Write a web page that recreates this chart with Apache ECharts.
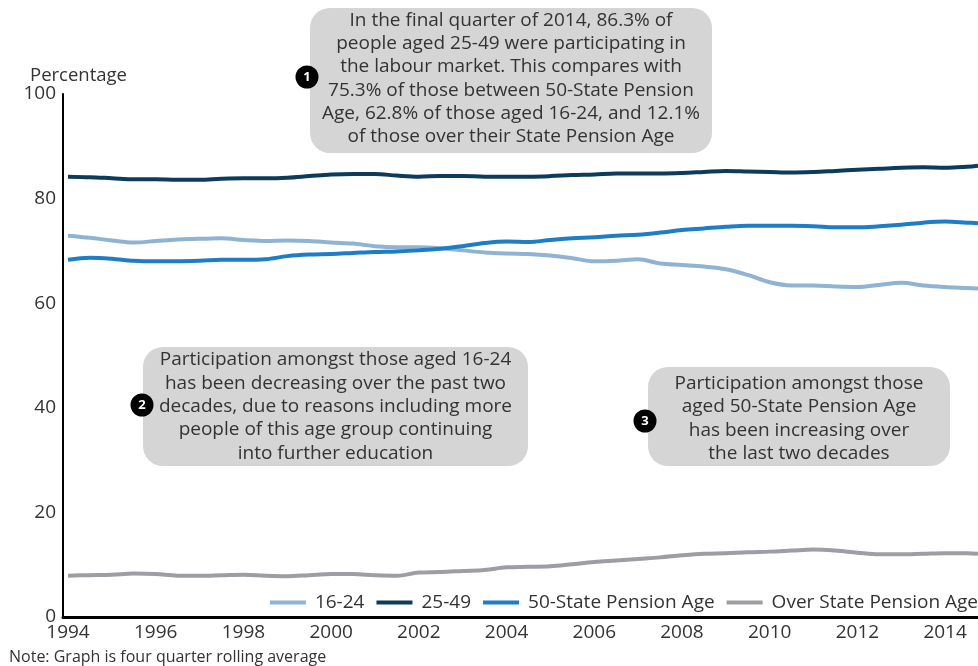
<!DOCTYPE html>
<html>
<head>
<meta charset="utf-8">
<title>Labour market participation by age group</title>
<script src="https://cdn.jsdelivr.net/npm/echarts@6/dist/echarts.min.js"></script>
<style>
  html, body { margin: 0; padding: 0; background: #ffffff; }
  #chart { width: 978px; height: 666px; }
</style>
</head>
<body>
<div id="chart"></div>
<script>
// Sample times (decimal years), shared by every series
const times = [
  1994.0, 1994.5, 1995.0, 1995.5, 1996.0, 1996.5, 1997.0, 1997.5, 1998.0, 1998.5,
  1999.0, 1999.5, 2000.0, 2000.5, 2001.0, 2001.5, 2002.0, 2002.5, 2003.0, 2003.5,
  2004.0, 2004.5, 2005.0, 2005.5, 2006.0, 2006.5, 2007.0, 2007.5, 2008.0, 2008.5,
  2009.0, 2009.5, 2010.0, 2010.5, 2011.0, 2011.5, 2012.0, 2012.5, 2013.0, 2013.5,
  2014.0, 2014.5, 2014.75
];

// Participation rate (%), four quarter rolling average
const aged16to24 = [
  72.9, 72.5, 72.0, 71.6, 71.9, 72.2, 72.3, 72.4, 72.1, 71.9,
  72.0, 71.9, 71.6, 71.4, 70.9, 70.7, 70.7, 70.5, 70.1, 69.7,
  69.5, 69.4, 69.1, 68.6, 68.0, 68.1, 68.4, 67.6, 67.3, 67.0,
  66.5, 65.4, 64.0, 63.4, 63.4, 63.2, 63.1, 63.5, 63.9, 63.4,
  63.1, 62.9, 62.8
];
const aged25to49 = [
  84.2, 84.1, 83.9, 83.7, 83.7, 83.6, 83.6, 83.8, 83.9, 83.9,
  84.0, 84.3, 84.6, 84.7, 84.7, 84.4, 84.2, 84.3, 84.3, 84.2,
  84.2, 84.2, 84.3, 84.5, 84.6, 84.8, 84.8, 84.8, 84.9, 85.1,
  85.3, 85.2, 85.1, 85.0, 85.1, 85.3, 85.5, 85.7, 85.9, 86.0,
  85.9, 86.1, 86.3
];
const aged50toSPA = [
  68.3, 68.7, 68.5, 68.1, 68.0, 68.0, 68.1, 68.3, 68.3, 68.4,
  69.0, 69.3, 69.4, 69.6, 69.8, 69.9, 70.1, 70.4, 70.9, 71.5,
  71.8, 71.7, 72.1, 72.4, 72.6, 72.9, 73.1, 73.5, 74.0, 74.3,
  74.6, 74.8, 74.8, 74.8, 74.7, 74.5, 74.5, 74.7, 75.0, 75.4,
  75.6, 75.4, 75.3
];
const overSPA = [
  7.9, 8.0, 8.1, 8.3, 8.2, 7.9, 7.9, 8.0, 8.1, 7.9,
  7.8, 8.0, 8.2, 8.2, 8.0, 7.9, 8.5, 8.6, 8.8, 9.0,
  9.5, 9.6, 9.7, 10.1, 10.5, 10.8, 11.1, 11.4, 11.8, 12.1,
  12.2, 12.4, 12.5, 12.7, 12.9, 12.7, 12.3, 12.0, 12.0, 12.1,
  12.2, 12.2, 12.1
];

const seriesNames = ['16-24', '25-49', '50-State Pension Age', 'Over State Pension Age'];
const seriesValues = [aged16to24, aged25to49, aged50toSPA, overSPA];
const seriesColors = ['#8fb3d3', '#0c3b5c', '#1f7dc6', '#9d9ea3'];

const yearTicks = [1994, 1996, 1998, 2000, 2002, 2004, 2006, 2008, 2010, 2012, 2014];

const calloutTexts = [
  ['In the final quarter of 2014, 86.3% of',
   'people aged 25-49 were participating in',
   'the labour market. This compares with',
   '75.3% of those between 50-State Pension',
   'Age, 62.8% of those aged 16-24, and 12.1%',
   'of those over their State Pension Age'],
  ['Participation amongst those aged 16-24',
   'has been decreasing over the past two',
   'decades, due to reasons including more',
   'people of this age group continuing',
   'into further education'],
  ['Participation amongst those',
   'aged 50-State Pension Age',
   'has been increasing over',
   'the last two decades']
];

const FONT = '"Open Sans", "Noto Sans", sans-serif';
const TEXT = '#333333';

// Callout boxes: rounded grey panel, numbered black badge, centred text
const callouts = [
  { box: [310, 8, 402, 145], badge: [307, 77], textY: 78.5 },
  { box: [143, 347, 385, 119], badge: [142, 405], textY: 406.5 },
  { box: [648, 367, 302, 99], badge: [645, 421], textY: 418.5 }
];

const graphics = [];
callouts.forEach((c, i) => {
  const [bx, by, bw, bh] = c.box;
  graphics.push({
    type: 'rect', z: 10,
    shape: { x: bx, y: by, width: bw, height: bh, r: 20 },
    style: { fill: '#d5d5d6' }
  });
  graphics.push({
    type: 'text', z: 11,
    style: {
      x: bx + bw / 2, y: c.textY,
      text: calloutTexts[i].join('\n'),
      font: '19px ' + FONT, fill: TEXT,
      lineHeight: 23.3,
      align: 'center', verticalAlign: 'middle'
    }
  });
  graphics.push({
    type: 'circle', z: 12,
    shape: { cx: c.badge[0], cy: c.badge[1], r: 11.5 },
    style: { fill: '#000000' }
  });
  graphics.push({
    type: 'text', z: 13,
    style: {
      x: c.badge[0], y: c.badge[1] + 0.5,
      text: String(i + 1),
      font: 'bold 13px ' + FONT, fill: '#ffffff',
      align: 'center', verticalAlign: 'middle'
    }
  });
});

graphics.push({
  type: 'text',
  style: { x: 30, y: 76, text: 'Percentage', font: '18.5px ' + FONT, fill: TEXT, verticalAlign: 'middle' }
});
graphics.push({
  type: 'text',
  style: { x: 9, y: 657, text: 'Note: Graph is four quarter rolling average', font: '16px ' + FONT, fill: TEXT, verticalAlign: 'middle' }
});

const chart = echarts.init(document.getElementById('chart'), null, { renderer: 'canvas' });

chart.setOption({
  animation: false,
  backgroundColor: '#ffffff',
  textStyle: { fontFamily: FONT },
  grid: { left: 63, right: 0, top: 94, bottom: 49, containLabel: false },
  legend: {
    data: seriesNames,
    right: 0, top: 593,
    padding: 0,
    icon: 'rect',
    itemWidth: 36, itemHeight: 4,
    itemGap: 12,
    textStyle: { fontSize: 19, color: TEXT, fontFamily: FONT, padding: [0, 0, 0, 4] }
  },
  xAxis: {
    type: 'value',
    min: 1993.886,
    max: 2014.75,
    splitLine: { show: false },
    axisTick: { show: false },
    axisLine: { show: true, lineStyle: { color: '#000000', width: 3 } },
    axisLabel: {
      customValues: yearTicks,
      formatter: v => String(Math.round(v)),
      fontSize: 19, color: TEXT, fontFamily: FONT, margin: 6
    }
  },
  yAxis: {
    type: 'value',
    min: 0, max: 100, interval: 20,
    splitLine: { show: false },
    axisTick: { show: false },
    axisLine: { show: true, lineStyle: { color: '#000000', width: 2 } },
    axisLabel: { fontSize: 19, color: TEXT, fontFamily: FONT, margin: 7 }
  },
  series: seriesNames.map((name, i) => ({
    name: name,
    type: 'line',
    smooth: 0.35,
    showSymbol: false,
    color: seriesColors[i],
    lineStyle: { width: 4, color: seriesColors[i] },
    data: times.map((t, k) => [t, seriesValues[i][k]]),
    z: 2
  })),
  graphic: graphics
});
</script>
</body>
</html>
